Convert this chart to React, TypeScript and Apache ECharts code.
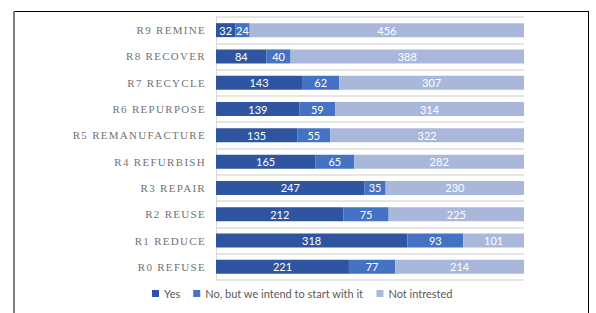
import React, { useEffect, useRef } from "react";
import * as echarts from "echarts";

const categories = [
  "R0 REFUSE",
  "R1 REDUCE",
  "R2 REUSE",
  "R3 REPAIR",
  "R4 REFURBISH",
  "R5 REMANUFACTURE",
  "R6 REPURPOSE",
  "R7 RECYCLE",
  "R8 RECOVER",
  "R9 REMINE",
];
const yesValues = [221, 318, 212, 247, 165, 135, 139, 143, 84, 32];
const intendValues = [77, 93, 75, 35, 65, 55, 59, 62, 40, 24];
const notValues = [214, 101, 225, 230, 282, 322, 314, 307, 388, 456];
const seriesNames = ["Yes", "No, but we intend to start with it", "Not intrested"];
const colors = ["#2F55A0", "#4472C4", "#A9B7DB"];

export default function App() {
  const ref = useRef<HTMLDivElement>(null);
  useEffect(() => {
    document.body.style.margin = "0";
    const chart = echarts.init(ref.current!, null, { renderer: "svg" });
    const mk = (name: string, data: number[], color: string) => ({
      name,
      type: "bar",
      stack: "total",
      data,
      barWidth: 14,
      itemStyle: { color },
      label: {
        show: true,
        position: "inside",
        color: "#ffffff",
        fontSize: 11,
        fontFamily: "Lato, 'Open Sans', sans-serif",
      },
    });
    chart.setOption({
      animation: false,
      grid: { left: 216, right: 72, top: 17, bottom: 33 },
      xAxis: {
        type: "value",
        min: 0,
        max: 512,
        show: false,
      },
      yAxis: {
        type: "category",
        data: categories,
        axisLine: { show: true, lineStyle: { color: "#D9D9D9", width: 1 } },
        axisTick: { show: false },
        splitLine: { show: true, lineStyle: { color: "#E6E6E6", width: 2 } },
        axisLabel: {
          color: "#727272",
          fontSize: 11,
          fontFamily: "'Liberation Serif', serif",
          margin: 10,
        },
      },
      legend: {
        bottom: 9,
        left: 147,
        icon: "rect",
        itemWidth: 7,
        itemHeight: 7,
        itemGap: 13,
        textStyle: {
          color: "#595959",
          fontSize: 11,
          fontFamily: "Lato, 'Open Sans', sans-serif",
        },
        data: seriesNames,
      },
      graphic: [
        { type: "line", shape: { x1: 14, y1: 11.5, x2: 588, y2: 11.5 }, style: { stroke: "#000000", lineWidth: 1 } },
        { type: "line", shape: { x1: 588.5, y1: 11, x2: 588.5, y2: 313 }, style: { stroke: "#000000", lineWidth: 1 } },
        { type: "line", shape: { x1: 14, y1: 11, x2: 14, y2: 313 }, style: { stroke: "#808080", lineWidth: 2 } },
      ],
      series: [
        mk(seriesNames[0], yesValues, colors[0]),
        mk(seriesNames[1], intendValues, colors[1]),
        mk(seriesNames[2], notValues, colors[2]),
      ],
    });
    const svg = ref.current!.querySelector("svg");
    if (svg) {
      svg.querySelectorAll("text").forEach((t) => {
        if (categories.includes((t.textContent || "").trim())) {
          t.setAttribute("letter-spacing", "1.3px");
        }
      });
    }
    return () => chart.dispose();
  }, []);
  return <div ref={ref} style={{ width: 596, height: 313 }} />;
}
